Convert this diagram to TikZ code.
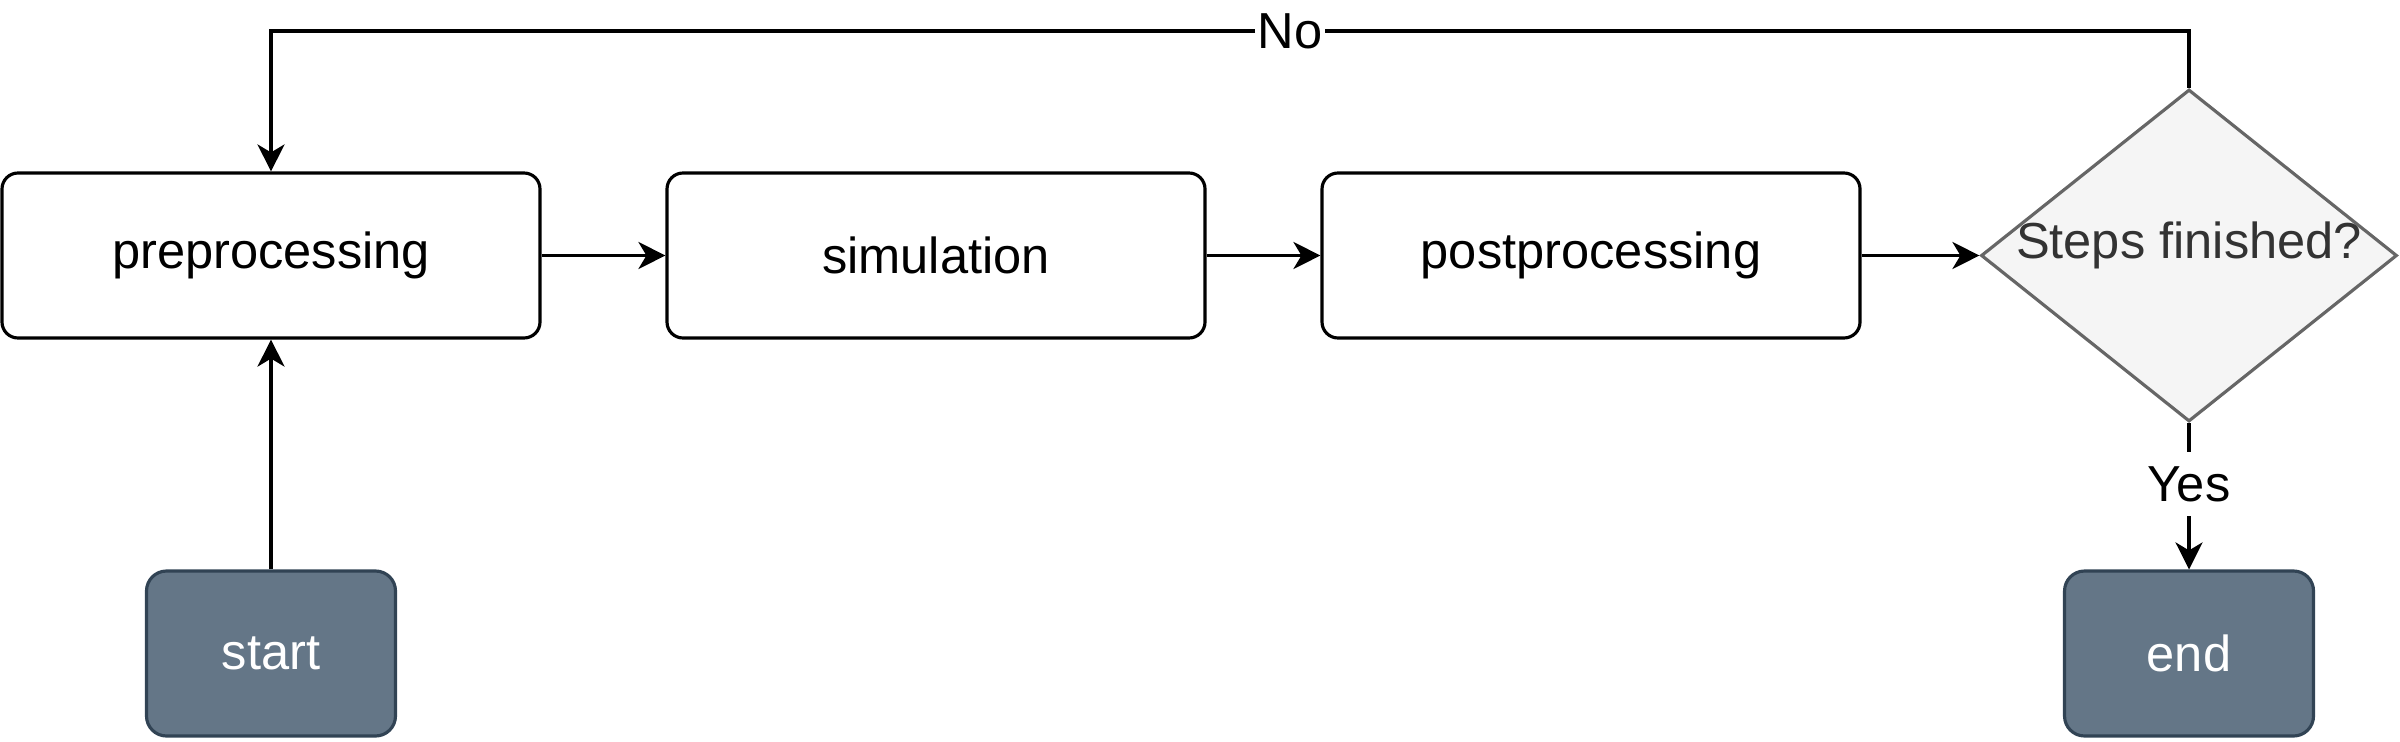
\documentclass[tikz,border=0pt]{standalone}
\usepackage{fontspec}
\setmainfont{Liberation Sans}
\usepackage{xcolor}
\usepackage{tikz}
\usetikzlibrary{arrows.meta, positioning, shapes.geometric}

\definecolor{slatefill}{HTML}{647687}
\definecolor{slateline}{HTML}{314354}
\definecolor{decisionfill}{HTML}{F5F5F5}
\definecolor{decisionline}{HTML}{666666}
\definecolor{decisiontext}{HTML}{333333}

\begin{document}
\begin{tikzpicture}[
        >={Stealth[length=0.27cm, width=0.27cm, inset=0.08cm]},
        font=\fontsize{14.4}{17}\selectfont,
        process/.style={draw, fill=white, rounded corners=0.16cm, line width=0.9pt, minimum width=5.38cm, minimum height=1.65cm},
        terminal/.style={draw=slateline, fill=slatefill, text=white, rounded corners=0.2cm, line width=0.9pt, minimum width=2.49cm, minimum height=1.65cm},
        decision/.style={diamond, draw=decisionline, fill=decisionfill, line width=0.9pt, minimum width=4.16cm, minimum height=3.32cm, inner sep=0pt},
        flow/.style={line width=0.9pt, ->},
        plain_flow/.style={line width=0.9pt},
        edge_label/.style={inner sep=0.5pt}
        ]
        \useasboundingbox (0,0) rectangle (24,7.41);

        % Main steps
        \node[process] (pre) at (2.71,4.855) {preprocessing};
        \node[process] (sim) at (9.36,4.855) {simulation};
        \node[process] (post) at (15.91,4.855) {postprocessing};
        \node[decision, label={[text=decisiontext, yshift=0.1cm]center:Steps finished?}] (check) at (21.89,4.855) {};

        % Start and end
        \node[terminal] (start) at (2.71,0.875) {start};
        \node[terminal] (finish) at (21.89,0.875) {end};

        % Branch labels
        \node[edge_label] (no) at (12.90,7.10) {No};
        \node[edge_label, inner ysep=4pt] (yes) at (21.89,2.57) {Yes};

        % Connectors
        \draw[flow] (start) -- (pre);
        \draw[flow] (pre) -- (sim);
        \draw[flow] (sim) -- (post);
        \draw[flow] (post) -- (check);

        % Loop back
        \draw[plain_flow] (check.north) |- (no);
        \draw[flow] (no) -| (pre.north);

        % Finish
        \draw[plain_flow] (check) -- (yes);
        \draw[flow] (yes) -- (finish);

    \end{tikzpicture}
\end{document}
